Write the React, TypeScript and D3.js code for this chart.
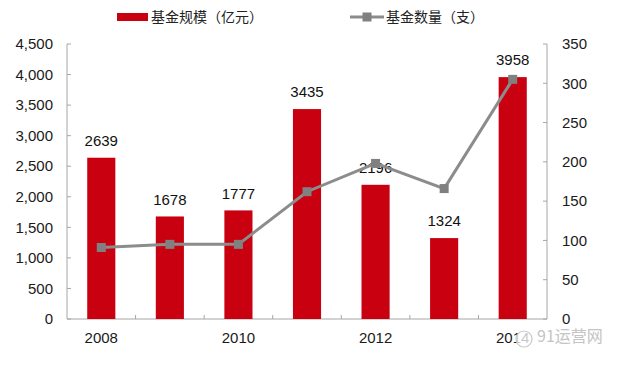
import React, { useEffect, useRef } from 'react';
import * as d3 from 'd3';

const years = ['2008', '2009', '2010', '2011', '2012', '2013', '2014'];
const fundSize = [2639, 1678, 1777, 3435, 2196, 1324, 3958];
const fundCount = [91, 95, 95, 162, 198, 166, 305];
const leftTicks = [0, 500, 1000, 1500, 2000, 2500, 3000, 3500, 4000, 4500];
const rightTicks = [0, 50, 100, 150, 200, 250, 300, 350];
const xLabels = ['2008', '2010', '2012', '2014'];

const App = () => {
  const ref = useRef<SVGSVGElement>(null);

  useEffect(() => {
    const svg = d3.select(ref.current);
    svg.selectAll('*').remove();

    const left = 67, right = 547, top = 44, bottom = 319;
    const font = 'Arial, "Liberation Sans", sans-serif';
    const cjk = '"Noto Sans CJK SC", sans-serif';

    const x = d3.scaleBand().domain(years).range([left, right]).paddingInner(0.59).paddingOuter(0.295);
    const yL = d3.scaleLinear().domain([0, 4500]).range([bottom, top]);
    const yR = d3.scaleLinear().domain([0, 350]).range([bottom, top]);
    const cx = (d: string) => (x(d) as number) + x.bandwidth() / 2;
    const step = x.step();

    // axes
    const axisColor = '#a6a6a6';
    svg.append('line').attr('x1', left).attr('x2', left).attr('y1', top).attr('y2', bottom).attr('stroke', axisColor);
    svg.append('line').attr('x1', right).attr('x2', right).attr('y1', top).attr('y2', bottom).attr('stroke', axisColor);
    svg.append('line').attr('x1', left).attr('x2', right).attr('y1', bottom).attr('y2', bottom).attr('stroke', axisColor);

    leftTicks.forEach(t => {
      svg.append('line').attr('x1', left).attr('x2', left + 4).attr('y1', yL(t)).attr('y2', yL(t)).attr('stroke', axisColor);
      svg.append('text').attr('x', 53).attr('y', yL(t)).attr('dy', '0.35em').attr('text-anchor', 'end')
        .attr('font-family', font).attr('font-size', 15).attr('fill', '#1a1a1a').text(d3.format(',')(t));
    });
    rightTicks.forEach(t => {
      svg.append('line').attr('x1', right - 4).attr('x2', right).attr('y1', yR(t)).attr('y2', yR(t)).attr('stroke', axisColor);
      svg.append('text').attr('x', 562).attr('y', yR(t)).attr('dy', '0.35em').attr('text-anchor', 'start')
        .attr('font-family', font).attr('font-size', 15).attr('fill', '#1a1a1a').text(t);
    });
    for (let i = 1; i < years.length; i++) {
      const tx = left + step * i;
      svg.append('line').attr('x1', tx).attr('x2', tx).attr('y1', bottom - 4).attr('y2', bottom).attr('stroke', axisColor);
    }
    xLabels.forEach(l => {
      svg.append('text').attr('x', cx(l)).attr('y', 338).attr('dy', '0.35em').attr('text-anchor', 'middle')
        .attr('font-family', font).attr('font-size', 15).attr('fill', '#1a1a1a').text(l);
    });

    // bars
    svg.selectAll('rect.bar').data(fundSize).enter().append('rect')
      .attr('class', 'bar')
      .attr('x', (_, i) => x(years[i]) as number)
      .attr('width', x.bandwidth())
      .attr('y', d => yL(d))
      .attr('height', d => bottom - yL(d))
      .attr('fill', '#c8000f');

    svg.selectAll('text.val').data(fundSize).enter().append('text')
      .attr('class', 'val')
      .attr('x', (_, i) => cx(years[i]))
      .attr('y', d => yL(d) - 17)
      .attr('dy', '0.35em')
      .attr('text-anchor', 'middle')
      .attr('font-family', font).attr('font-size', 15).attr('fill', '#111')
      .text(d => d);

    // line
    const line = d3.line<number>().x((_, i) => cx(years[i])).y(d => yR(d));
    svg.append('path').datum(fundCount).attr('d', line).attr('fill', 'none')
      .attr('stroke', '#8c8c8c').attr('stroke-width', 3);
    svg.selectAll('rect.mk').data(fundCount).enter().append('rect')
      .attr('class', 'mk')
      .attr('x', (_, i) => cx(years[i]) - 4.5)
      .attr('y', d => yR(d) - 4.5)
      .attr('width', 9).attr('height', 9)
      .attr('fill', '#808080');

    // legend
    svg.append('rect').attr('x', 117).attr('y', 13).attr('width', 31).attr('height', 8).attr('fill', '#c8000f');
    svg.append('text').attr('x', 151).attr('y', 17).attr('dy', '0.35em').attr('font-family', cjk)
      .attr('font-size', 14).attr('fill', '#222').text('基金规模（亿元）');
    svg.append('line').attr('x1', 350).attr('x2', 384).attr('y1', 17).attr('y2', 17).attr('stroke', '#8c8c8c').attr('stroke-width', 3);
    svg.append('rect').attr('x', 362.5).attr('y', 12.5).attr('width', 9).attr('height', 9).attr('fill', '#808080');
    svg.append('text').attr('x', 386).attr('y', 17).attr('dy', '0.35em').attr('font-family', cjk)
      .attr('font-size', 14).attr('fill', '#222').text('基金数量（支）');

    // watermark
    svg.append('circle').attr('cx', 524).attr('cy', 339).attr('r', 8).attr('fill', 'rgba(255,255,255,0.75)')
      .attr('stroke', '#c8c8c8').attr('stroke-width', 1.2);
    svg.append('text').attr('x', 537).attr('y', 336).attr('dy', '0.35em').attr('font-family', cjk)
      .attr('font-size', 16).attr('fill', '#c4c4c4').text('91运营网');
  }, []);

  return (
    <svg ref={ref} width={640} height={366} style={{ position: 'absolute', left: 0, top: 0, background: '#fff' }} />
  );
};

export default App;
